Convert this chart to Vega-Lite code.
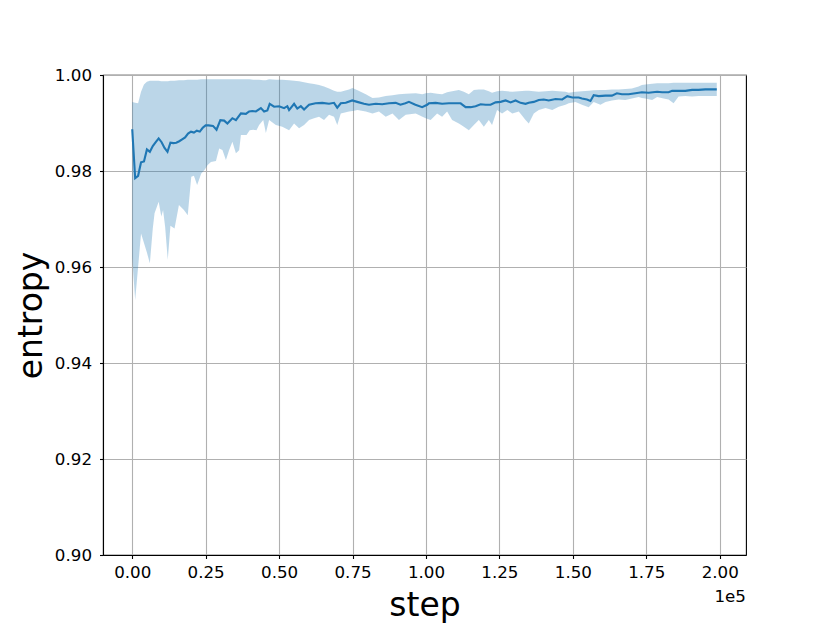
{
  "$schema": "https://vega.github.io/schema/vega-lite/v6.json",
  "width": 643,
  "height": 480,
  "autosize": {"type": "none"},
  "padding": {"left": 103, "top": 75, "right": 84, "bottom": 68},
  "background": "white",
  "title": {"text": "1e5", "orient": "bottom", "anchor": "end", "font": "DejaVu Sans", "fontSize": 16.7, "fontWeight": "normal", "color": "black", "offset": -33},
  "datasets": {
    "band": [
      {"step": 0, "lo": 0.962, "hi": 0.9944},
      {"step": 1000, "lo": 0.9531, "hi": 0.9942},
      {"step": 2000, "lo": 0.9600, "hi": 0.9941},
      {"step": 3000, "lo": 0.9670, "hi": 0.9965},
      {"step": 4000, "lo": 0.9650, "hi": 0.9980},
      {"step": 5000, "lo": 0.9630, "hi": 0.9986},
      {"step": 6000, "lo": 0.9608, "hi": 0.9988},
      {"step": 7000, "lo": 0.9680, "hi": 0.9988},
      {"step": 7600, "lo": 0.9712, "hi": 0.9988},
      {"step": 9000, "lo": 0.9736, "hi": 0.9988},
      {"step": 9900, "lo": 0.9705, "hi": 0.9987},
      {"step": 10500, "lo": 0.9719, "hi": 0.9987},
      {"step": 11200, "lo": 0.9684, "hi": 0.9987},
      {"step": 12100, "lo": 0.9615, "hi": 0.9987},
      {"step": 13000, "lo": 0.9686, "hi": 0.9988},
      {"step": 14400, "lo": 0.9680, "hi": 0.9988},
      {"step": 15900, "lo": 0.9729, "hi": 0.9989},
      {"step": 17600, "lo": 0.9719, "hi": 0.9989},
      {"step": 18900, "lo": 0.9708, "hi": 0.9990},
      {"step": 20100, "lo": 0.9788, "hi": 0.9990},
      {"step": 21000, "lo": 0.9790, "hi": 0.9990},
      {"step": 22100, "lo": 0.9771, "hi": 0.9990},
      {"step": 23500, "lo": 0.9795, "hi": 0.9991},
      {"step": 24600, "lo": 0.9802, "hi": 0.9991},
      {"step": 25600, "lo": 0.9812, "hi": 0.9991},
      {"step": 26800, "lo": 0.9819, "hi": 0.9991},
      {"step": 28500, "lo": 0.9821, "hi": 0.9991},
      {"step": 29600, "lo": 0.9847, "hi": 0.9991},
      {"step": 30700, "lo": 0.9844, "hi": 0.9991},
      {"step": 31900, "lo": 0.9823, "hi": 0.9991},
      {"step": 33000, "lo": 0.9844, "hi": 0.9991},
      {"step": 34100, "lo": 0.9861, "hi": 0.9991},
      {"step": 35300, "lo": 0.9837, "hi": 0.9991},
      {"step": 36400, "lo": 0.9843, "hi": 0.9991},
      {"step": 37000, "lo": 0.9875, "hi": 0.9991},
      {"step": 38900, "lo": 0.9875, "hi": 0.9991},
      {"step": 40000, "lo": 0.9885, "hi": 0.9991},
      {"step": 41200, "lo": 0.9886, "hi": 0.9990},
      {"step": 42300, "lo": 0.9885, "hi": 0.9990},
      {"step": 43200, "lo": 0.9896, "hi": 0.9990},
      {"step": 44600, "lo": 0.9906, "hi": 0.9989},
      {"step": 45500, "lo": 0.9879, "hi": 0.9989},
      {"step": 46600, "lo": 0.9906, "hi": 0.9991},
      {"step": 48900, "lo": 0.9896, "hi": 0.9990},
      {"step": 51100, "lo": 0.9892, "hi": 0.9990},
      {"step": 53400, "lo": 0.9885, "hi": 0.9989},
      {"step": 55100, "lo": 0.9899, "hi": 0.9988},
      {"step": 56800, "lo": 0.9889, "hi": 0.9987},
      {"step": 58500, "lo": 0.9896, "hi": 0.9985},
      {"step": 60200, "lo": 0.9906, "hi": 0.9983},
      {"step": 61900, "lo": 0.9910, "hi": 0.9981},
      {"step": 63600, "lo": 0.9913, "hi": 0.9979},
      {"step": 65300, "lo": 0.9906, "hi": 0.9976},
      {"step": 67000, "lo": 0.9917, "hi": 0.9972},
      {"step": 68700, "lo": 0.9913, "hi": 0.9967},
      {"step": 69800, "lo": 0.9896, "hi": 0.9965},
      {"step": 71000, "lo": 0.9920, "hi": 0.9965},
      {"step": 73800, "lo": 0.9924, "hi": 0.9970},
      {"step": 75000, "lo": 0.9925, "hi": 0.9973},
      {"step": 76700, "lo": 0.9927, "hi": 0.9968},
      {"step": 79500, "lo": 0.9924, "hi": 0.9960},
      {"step": 81800, "lo": 0.9920, "hi": 0.9952},
      {"step": 84000, "lo": 0.9924, "hi": 0.9953},
      {"step": 86300, "lo": 0.9913, "hi": 0.9956},
      {"step": 88600, "lo": 0.9920, "hi": 0.9958},
      {"step": 90800, "lo": 0.9906, "hi": 0.9960},
      {"step": 93100, "lo": 0.9917, "hi": 0.9961},
      {"step": 96500, "lo": 0.9920, "hi": 0.9962},
      {"step": 98800, "lo": 0.9913, "hi": 0.9960},
      {"step": 99900, "lo": 0.9910, "hi": 0.9962},
      {"step": 101600, "lo": 0.9906, "hi": 0.9963},
      {"step": 103800, "lo": 0.9920, "hi": 0.9961},
      {"step": 105500, "lo": 0.9913, "hi": 0.9960},
      {"step": 107200, "lo": 0.9924, "hi": 0.9964},
      {"step": 108900, "lo": 0.9906, "hi": 0.9966},
      {"step": 111200, "lo": 0.9899, "hi": 0.9969},
      {"step": 112900, "lo": 0.9892, "hi": 0.9965},
      {"step": 114600, "lo": 0.9885, "hi": 0.9960},
      {"step": 116300, "lo": 0.9896, "hi": 0.9969},
      {"step": 118000, "lo": 0.9906, "hi": 0.9970},
      {"step": 119700, "lo": 0.9892, "hi": 0.9970},
      {"step": 121400, "lo": 0.9906, "hi": 0.9966},
      {"step": 122500, "lo": 0.9896, "hi": 0.9963},
      {"step": 124200, "lo": 0.9927, "hi": 0.9966},
      {"step": 125900, "lo": 0.9920, "hi": 0.9967},
      {"step": 127700, "lo": 0.9927, "hi": 0.9966},
      {"step": 129400, "lo": 0.9920, "hi": 0.9965},
      {"step": 131600, "lo": 0.9924, "hi": 0.9966},
      {"step": 133900, "lo": 0.9906, "hi": 0.9967},
      {"step": 135000, "lo": 0.9899, "hi": 0.9967},
      {"step": 136700, "lo": 0.9920, "hi": 0.9966},
      {"step": 138400, "lo": 0.9927, "hi": 0.9965},
      {"step": 140700, "lo": 0.9931, "hi": 0.9966},
      {"step": 143000, "lo": 0.9927, "hi": 0.9967},
      {"step": 145200, "lo": 0.9934, "hi": 0.9966},
      {"step": 147500, "lo": 0.9938, "hi": 0.9965},
      {"step": 148600, "lo": 0.9941, "hi": 0.9963},
      {"step": 150900, "lo": 0.9944, "hi": 0.9965},
      {"step": 153100, "lo": 0.9938, "hi": 0.9966},
      {"step": 155400, "lo": 0.9933, "hi": 0.9967},
      {"step": 157100, "lo": 0.9944, "hi": 0.9968},
      {"step": 159400, "lo": 0.9938, "hi": 0.9969},
      {"step": 161100, "lo": 0.9944, "hi": 0.9969},
      {"step": 163300, "lo": 0.9947, "hi": 0.9970},
      {"step": 165600, "lo": 0.9949, "hi": 0.9970},
      {"step": 167900, "lo": 0.9948, "hi": 0.9971},
      {"step": 170100, "lo": 0.9951, "hi": 0.9972},
      {"step": 172400, "lo": 0.9954, "hi": 0.9976},
      {"step": 173500, "lo": 0.9952, "hi": 0.9979},
      {"step": 174700, "lo": 0.9951, "hi": 0.9980},
      {"step": 177000, "lo": 0.9948, "hi": 0.9982},
      {"step": 178700, "lo": 0.9954, "hi": 0.9983},
      {"step": 180900, "lo": 0.9951, "hi": 0.9983},
      {"step": 182600, "lo": 0.9949, "hi": 0.9983},
      {"step": 184300, "lo": 0.9941, "hi": 0.9984},
      {"step": 186000, "lo": 0.9955, "hi": 0.9984},
      {"step": 188300, "lo": 0.9956, "hi": 0.9984},
      {"step": 190600, "lo": 0.9955, "hi": 0.9984},
      {"step": 192800, "lo": 0.9956, "hi": 0.9984},
      {"step": 195100, "lo": 0.9956, "hi": 0.9984},
      {"step": 199000, "lo": 0.9956, "hi": 0.9984}
    ],
    "mean": [
      {"step": 0, "entropy": 0.9887},
      {"step": 1000, "entropy": 0.9785},
      {"step": 2000, "entropy": 0.9790},
      {"step": 3000, "entropy": 0.9818},
      {"step": 4000, "entropy": 0.9820},
      {"step": 5000, "entropy": 0.9845},
      {"step": 6000, "entropy": 0.9840},
      {"step": 7000, "entropy": 0.9852},
      {"step": 8000, "entropy": 0.9860},
      {"step": 9000, "entropy": 0.9868},
      {"step": 10000, "entropy": 0.9860},
      {"step": 11000, "entropy": 0.9848},
      {"step": 12000, "entropy": 0.9840},
      {"step": 13000, "entropy": 0.9859},
      {"step": 14000, "entropy": 0.9858},
      {"step": 15000, "entropy": 0.9859},
      {"step": 16000, "entropy": 0.9862},
      {"step": 17000, "entropy": 0.9866},
      {"step": 18000, "entropy": 0.9870},
      {"step": 19000, "entropy": 0.9878},
      {"step": 20000, "entropy": 0.9882},
      {"step": 21000, "entropy": 0.9880},
      {"step": 22000, "entropy": 0.9884},
      {"step": 23000, "entropy": 0.9882},
      {"step": 24000, "entropy": 0.9890},
      {"step": 25000, "entropy": 0.9895},
      {"step": 26000, "entropy": 0.9895},
      {"step": 27500, "entropy": 0.9894},
      {"step": 28700, "entropy": 0.9886},
      {"step": 30000, "entropy": 0.9906},
      {"step": 31300, "entropy": 0.9905},
      {"step": 32400, "entropy": 0.9899},
      {"step": 34100, "entropy": 0.9910},
      {"step": 35300, "entropy": 0.9906},
      {"step": 37000, "entropy": 0.9920},
      {"step": 38700, "entropy": 0.9919},
      {"step": 39800, "entropy": 0.9924},
      {"step": 40900, "entropy": 0.9925},
      {"step": 42100, "entropy": 0.9924},
      {"step": 43800, "entropy": 0.9931},
      {"step": 44900, "entropy": 0.9924},
      {"step": 46000, "entropy": 0.9926},
      {"step": 46800, "entropy": 0.9940},
      {"step": 48300, "entropy": 0.9934},
      {"step": 50000, "entropy": 0.9935},
      {"step": 51700, "entropy": 0.9931},
      {"step": 52800, "entropy": 0.9935},
      {"step": 53400, "entropy": 0.9927},
      {"step": 55100, "entropy": 0.9940},
      {"step": 56200, "entropy": 0.9930},
      {"step": 57400, "entropy": 0.9935},
      {"step": 58500, "entropy": 0.9928},
      {"step": 60200, "entropy": 0.9938},
      {"step": 62400, "entropy": 0.9941},
      {"step": 64700, "entropy": 0.9942},
      {"step": 67000, "entropy": 0.9940},
      {"step": 68700, "entropy": 0.9942},
      {"step": 69800, "entropy": 0.9932},
      {"step": 71000, "entropy": 0.9941},
      {"step": 72700, "entropy": 0.9942},
      {"step": 74900, "entropy": 0.9947},
      {"step": 76600, "entropy": 0.9944},
      {"step": 78900, "entropy": 0.9940},
      {"step": 80600, "entropy": 0.9938},
      {"step": 82900, "entropy": 0.9940},
      {"step": 85100, "entropy": 0.9939},
      {"step": 87400, "entropy": 0.9941},
      {"step": 89700, "entropy": 0.9942},
      {"step": 91300, "entropy": 0.9938},
      {"step": 93000, "entropy": 0.9941},
      {"step": 94200, "entropy": 0.9944},
      {"step": 96400, "entropy": 0.9938},
      {"step": 98700, "entropy": 0.9933},
      {"step": 100400, "entropy": 0.9938},
      {"step": 101000, "entropy": 0.9941},
      {"step": 103300, "entropy": 0.9942},
      {"step": 105500, "entropy": 0.9940},
      {"step": 107800, "entropy": 0.9941},
      {"step": 110100, "entropy": 0.9941},
      {"step": 111800, "entropy": 0.9941},
      {"step": 113500, "entropy": 0.9933},
      {"step": 115200, "entropy": 0.9933},
      {"step": 116900, "entropy": 0.9935},
      {"step": 118600, "entropy": 0.9939},
      {"step": 120300, "entropy": 0.9938},
      {"step": 122000, "entropy": 0.9938},
      {"step": 123700, "entropy": 0.9943},
      {"step": 125400, "entropy": 0.9944},
      {"step": 127100, "entropy": 0.9947},
      {"step": 128800, "entropy": 0.9943},
      {"step": 130500, "entropy": 0.9947},
      {"step": 132200, "entropy": 0.9942},
      {"step": 133900, "entropy": 0.9940},
      {"step": 135000, "entropy": 0.9942},
      {"step": 136700, "entropy": 0.9944},
      {"step": 138400, "entropy": 0.9948},
      {"step": 140100, "entropy": 0.9949},
      {"step": 141800, "entropy": 0.9947},
      {"step": 144100, "entropy": 0.9950},
      {"step": 146400, "entropy": 0.9949},
      {"step": 148100, "entropy": 0.9956},
      {"step": 149800, "entropy": 0.9953},
      {"step": 152000, "entropy": 0.9953},
      {"step": 153100, "entropy": 0.9951},
      {"step": 154800, "entropy": 0.9949},
      {"step": 156000, "entropy": 0.9946},
      {"step": 157100, "entropy": 0.9958},
      {"step": 158800, "entropy": 0.9956},
      {"step": 161100, "entropy": 0.9957},
      {"step": 163300, "entropy": 0.9957},
      {"step": 165000, "entropy": 0.9962},
      {"step": 166700, "entropy": 0.9960},
      {"step": 169000, "entropy": 0.9960},
      {"step": 171300, "entropy": 0.9962},
      {"step": 173500, "entropy": 0.9964},
      {"step": 175800, "entropy": 0.9963},
      {"step": 178700, "entropy": 0.9965},
      {"step": 180400, "entropy": 0.9964},
      {"step": 182600, "entropy": 0.9964},
      {"step": 183800, "entropy": 0.9967},
      {"step": 186000, "entropy": 0.9967},
      {"step": 188300, "entropy": 0.9967},
      {"step": 190600, "entropy": 0.9969},
      {"step": 192800, "entropy": 0.9969},
      {"step": 195100, "entropy": 0.9970},
      {"step": 196800, "entropy": 0.9970},
      {"step": 199000, "entropy": 0.9970}
    ]
  },
  "layer": [
    {
      "data": {"name": "band"},
      "mark": {"type": "area", "color": "#1f77b4", "opacity": 0.3, "clip": true},
      "encoding": {
        "x": {"field": "step", "type": "quantitative",
              "scale": {"domain": [-9950, 208950], "nice": false, "zero": false},
              "axis": {"title": "step", "values": [0, 25000, 50000, 75000, 100000, 125000, 150000, 175000, 200000],
                       "labelExpr": "format(datum.value / 100000, '.2f')"}},
        "y": {"field": "lo", "type": "quantitative",
              "scale": {"domain": [0.9, 1.0], "nice": false, "zero": false},
              "axis": {"title": "entropy", "values": [0.9, 0.92, 0.94, 0.96, 0.98, 1.0], "format": ".2f"}},
        "y2": {"field": "hi"}
      }
    },
    {
      "data": {"name": "mean"},
      "mark": {"type": "line", "color": "#1f77b4", "strokeWidth": 2.1, "clip": true},
      "encoding": {
        "x": {"field": "step", "type": "quantitative"},
        "y": {"field": "entropy", "type": "quantitative"}
      }
    }
  ],
  "config": {
    "view": {"stroke": "black", "strokeWidth": 1.1},
    "axis": {
      "domainColor": "black", "domainWidth": 1.1,
      "tickColor": "black", "tickSize": 3.5, "tickWidth": 1.1,
      "grid": true, "gridColor": "#b0b0b0", "gridWidth": 1.1,
      "labelFont": "DejaVu Sans", "labelFontSize": 16.7, "labelColor": "black",
      "titleFont": "DejaVu Sans", "titleFontSize": 33, "titleFontWeight": "normal", "titleColor": "black",
      "labelFlush": false, "labelOverlap": false
    },
    "axisX": {"titlePadding": 8, "labelPadding": 6},
    "axisY": {"titlePadding": 6, "labelPadding": 8}
  }
}
